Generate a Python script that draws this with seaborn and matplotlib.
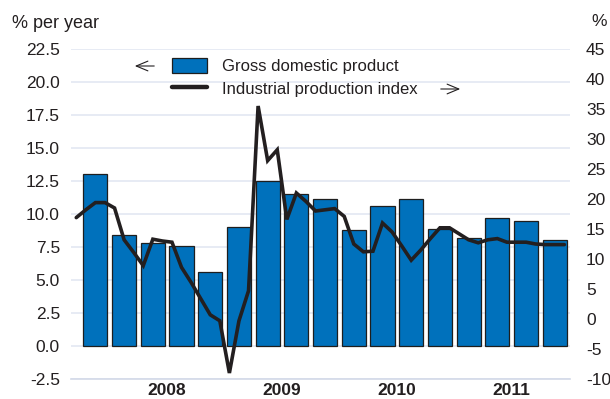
"""
GDP vs industrial production: quarterly bars (left axis) and monthly line (right axis).
"""
import numpy as np
import pandas as pd
import matplotlib
matplotlib.use("Agg")
import matplotlib.pyplot as plt
import seaborn as sns
from matplotlib.patches import Patch
from matplotlib.lines import Line2D
from matplotlib.transforms import blended_transform_factory

sns.set_theme(style="white")
plt.rcParams["font.family"] = ["Liberation Sans", "DejaVu Sans"]
plt.rcParams["axes.unicode_minus"] = False

# ---------- data ------------------------------------------------------------
quarters = ["2007Q4",
            "2008Q1", "2008Q2", "2008Q3", "2008Q4",
            "2009Q1", "2009Q2", "2009Q3", "2009Q4",
            "2010Q1", "2010Q2", "2010Q3", "2010Q4",
            "2011Q1", "2011Q2", "2011Q3", "2011Q4"]
gdp = [13.0, 8.4, 7.8, 7.6, 5.6, 9.0, 12.5, 11.5, 11.1,
       8.8, 10.6, 11.1, 8.9, 8.2, 9.7, 9.5, 8.0]

months = pd.date_range("2007-09-01", "2011-12-01", freq="MS")
ipi = [16.9, 18.2, 19.4, 19.4, 18.5, 13.2, 11.1, 8.9, 13.3, 13.0, 12.8, 8.6,
       6.1, 3.4, 0.7, -0.3, -9.0, -0.3, 4.7, 35.5, 26.4, 28.2, 16.6, 21.0,
       19.6, 18.0, 18.2, 18.4, 17.1, 12.5, 11.2, 11.3, 16.0, 14.5, 12.2, 9.8,
       11.5, 13.4, 15.2, 15.2, 14.2, 13.2, 12.7, 13.2, 13.4, 12.8, 12.8, 12.8,
       12.5, 12.4, 12.4, 12.4]

years = ["2008", "2009", "2010", "2011"]
left_ticks = np.arange(-2.5, 22.6, 2.5)
right_ticks = np.arange(-10, 46, 5)

BLUE = "#0071bc"
DARK = "#231f20"
GRID = "#e3e7f2"

# bar i sits on [i-0.5, i+0.5]; months go at mid-month in quarter units
xq = np.arange(len(quarters))
q0 = pd.Timestamp("2007-10-01")
xm = np.array([((m.year - q0.year) * 12 + m.month - q0.month + 0.5) / 3 - 0.5
               for m in months])

fig = plt.figure(figsize=(6.1, 3.99), dpi=100)
ax = fig.add_axes([71 / 610, 20 / 399, 499 / 610, 330 / 399])

sns.barplot(x=xq, y=gdp, native_scale=True, orient="v", width=0.84,
            color=BLUE, saturation=1, edgecolor="#1e1e1e", linewidth=0.9,
            errorbar=None, ax=ax)
ax.set_axisbelow(True)
ax.yaxis.grid(True, color=GRID, lw=1.2)
ax.set_ylim(-2.5, 22.5)
ax.set_yticks(left_ticks)
ax.set_yticklabels([f"{v:.1f}" for v in left_ticks])
ax.set_xlim(-0.85, 16.53)
ax.set_xlabel(""); ax.set_ylabel("")

# quarter ticks (short) and year boundary ticks (long), pointing inward
ax.set_xticks(np.arange(0.5, 17, 4))
ax.set_xticks(np.arange(-0.5, 17, 1), minor=True)
ax.set_xticklabels([])
ax.tick_params(axis="x", which="major", direction="in", length=8, width=1, color="#555555")
ax.tick_params(axis="x", which="minor", direction="in", length=4, width=1, color="#555555")
ax.tick_params(axis="y", length=0, pad=8, labelsize=12.5, labelcolor=DARK)
for s in ["top", "left", "right"]:
    ax.spines[s].set_visible(False)
ax.spines["bottom"].set_color("#d3d9e8")
ax.spines["bottom"].set_linewidth(1.2)

tr = blended_transform_factory(ax.transData, ax.transAxes)
for i, yr in enumerate(years):
    ax.text(2.5 + 4 * i, -0.034, yr, transform=tr, ha="center", va="center",
            fontsize=12.5, fontweight="bold", color=DARK)

ax2 = ax.twinx()
sns.lineplot(x=xm, y=ipi, color=DARK, lw=2.6, ax=ax2)
ax2.lines[0].set_solid_joinstyle("miter")
ax2.set_ylim(-10, 45)
ax2.set_yticks(right_ticks)
ax2.set_yticklabels([f"{v:d}" for v in right_ticks])
ax2.tick_params(axis="y", length=0, pad=11.5, labelsize=12.5, labelcolor=DARK)
ax2.set_xlim(-0.85, 16.53)
ax2.set_ylabel("")
for s in ["top", "left", "right", "bottom"]:
    ax2.spines[s].set_visible(False)

# legend
handles = [Patch(facecolor=BLUE, edgecolor="#1e1e1e", linewidth=0.9),
           Line2D([], [], color=DARK, lw=3.2)]
labels = ["Gross domestic product", "Industrial production index"]
fig.legend(handles, labels, loc="upper left", bbox_to_anchor=(172 / 610, 1 - 58 / 399),
           frameon=False, fontsize=12, handlelength=2.1, handleheight=1.0,
           handletextpad=0.9, labelspacing=0.38, borderpad=0, borderaxespad=0,
           labelcolor=DARK)

arrow = dict(arrowstyle="->,head_length=0.6,head_width=0.25", lw=0.8,
             color=DARK, mutation_scale=14)
ax.annotate("", xy=(132, 399 - 66), xytext=(157, 399 - 66),
            xycoords="figure pixels", textcoords="figure pixels", arrowprops=arrow)
ax.annotate("", xy=(463, 399 - 89), xytext=(438, 399 - 89),
            xycoords="figure pixels", textcoords="figure pixels", arrowprops=arrow)

fig.text(12 / 610, 1 - 23 / 399, "% per year", ha="left", va="center",
         fontsize=13, color=DARK)
fig.text(591 / 610, 1 - 22 / 399, "%", ha="left", va="center",
         fontsize=12.5, color=DARK)

fig.savefig("out.png", dpi=100)
